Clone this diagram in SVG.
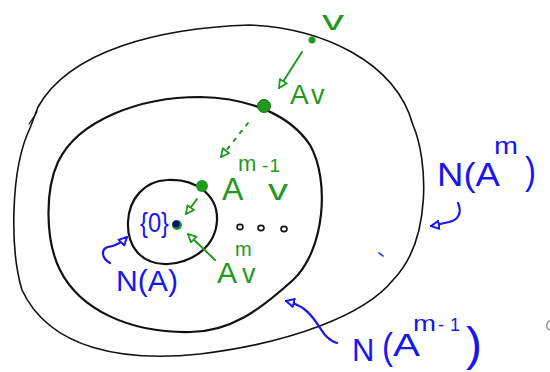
<svg xmlns="http://www.w3.org/2000/svg" width="550" height="372" viewBox="0 0 550 372">
<style>
.rg{fill:none;stroke:#111;stroke-linecap:round;stroke-linejoin:round}
.g{fill:#1f9a1f;font-family:"Liberation Sans","DejaVu Sans",sans-serif}
.b{fill:#1717ee;font-family:"Liberation Sans","DejaVu Sans",sans-serif}
.gl{fill:none;stroke:#1f9a1f;stroke-width:2;stroke-linecap:round}
.bl{fill:none;stroke:#1717ee;stroke-width:2.2;stroke-linecap:round;stroke-linejoin:round}
</style>
<defs>
<marker id="ag" viewBox="0 0 10 10" refX="9" refY="5" markerWidth="10" markerHeight="10" markerUnits="userSpaceOnUse" orient="auto"><path d="M1,1 L9,5 L1,9 Z" fill="#fff" stroke="#1f9a1f" stroke-width="1.8" stroke-linejoin="round"/></marker>
<marker id="ab" viewBox="0 0 10 10" refX="9" refY="5" markerWidth="10" markerHeight="10" markerUnits="userSpaceOnUse" orient="auto"><path d="M1,1 L9,5 L1,9 Z" fill="#fff" stroke="#1717ee" stroke-width="2" stroke-linejoin="round"/></marker>
</defs>
<rect width="550" height="372" fill="#fff"/>

<g id="outer-region">
<path class="rg" stroke-width="1.6" d="M 250,25 C 320,28 395,60 413,125 C 428,160 432,240 393,280 C 365,315 290,343 200,354 C 125,362 50,350 22,290 C 10,250 10,170 30,128 L 38,107 C 70,50 160,28 250,25 Z"/>
<path class="rg" stroke-width="1.2" d="M 29,124 L 37,112"/>
</g>
<g id="middle-region">
<path class="rg" stroke-width="2.2" d="M 200,97 C 250,98 290,115 310,145 C 330,180 325,250 293,280 C 260,310 230,332 190,332 C 130,333 80,310 60,270 C 45,240 45,190 58,162 C 78,120 140,97 200,97 Z"/>
</g>
<g id="inner-region">
<path class="rg" stroke-width="2.2" d="M 167,180 C 195,178 218,195 217,220 C 216,245 195,262 168,264 C 140,265 127,245 128,222 C 129,198 145,181 167,180 Z"/>
</g>

<g id="point-v"><circle cx="312" cy="40" r="3.5" fill="#1f9a1f"/>
<text class="g" x="322" y="30" font-size="27" textLength="22" lengthAdjust="spacingAndGlyphs">v</text></g>
<g id="point-Av"><circle cx="264" cy="106" r="6.5" fill="#1f9a1f" stroke="#137013" stroke-width="1"/>
<text class="g" x="290" y="104" font-size="28">A</text><text class="g" x="311" y="104" font-size="27">v</text></g>
<g id="point-Am1v"><circle cx="202" cy="186" r="6" fill="#1f9a1f"/>
<text class="g" x="222" y="200" font-size="32">A</text>
<text class="g" x="238" y="171" font-size="22">m</text>
<text class="g" x="262" y="172" font-size="19" textLength="18" lengthAdjust="spacing">-1</text>
<text class="g" x="268" y="200" font-size="29" textLength="20" lengthAdjust="spacingAndGlyphs">v</text></g>
<g id="point-Amv"><circle cx="177" cy="225" r="5" fill="#1f9a1f"/><circle cx="176" cy="224" r="3.6" fill="#0d0d80"/>
<text class="g" x="217" y="283" font-size="30">A</text>
<text class="g" x="235" y="256" font-size="20">m</text>
<text class="g" x="242" y="283" font-size="27">v</text></g>
<g id="zero-set"><text class="b" x="140" y="232" font-size="27" textLength="29" lengthAdjust="spacingAndGlyphs">{0}</text></g>
<g id="ellipsis">
<ellipse cx="240" cy="227" rx="3" ry="2.6" fill="none" stroke="#111" stroke-width="1.6"/>
<ellipse cx="261" cy="228" rx="3" ry="2.6" fill="none" stroke="#111" stroke-width="1.6"/>
<ellipse cx="284" cy="229" rx="3" ry="2.6" fill="none" stroke="#111" stroke-width="1.6"/>
</g>

<g id="label-NA"><text class="b" x="116" y="291" font-size="29" textLength="62" lengthAdjust="spacingAndGlyphs">N(A)</text></g>
<g id="label-NAm">
<text class="b" x="437" y="186" font-size="33" textLength="63" lengthAdjust="spacingAndGlyphs">N(A</text>
<text class="b" x="494" y="154" font-size="23" textLength="24" lengthAdjust="spacingAndGlyphs">m</text>
<text class="b" x="525" y="184" font-size="38" textLength="11" lengthAdjust="spacingAndGlyphs">)</text>
</g>
<g id="label-NAm1">
<text class="b" x="352" y="361" font-size="31">N</text>
<text class="b" x="382" y="359" font-size="36" textLength="11" lengthAdjust="spacingAndGlyphs">(</text>
<text class="b" x="393" y="356" font-size="32" textLength="27" lengthAdjust="spacingAndGlyphs">A</text>
<text class="b" x="413" y="331" font-size="22" textLength="23" lengthAdjust="spacingAndGlyphs">m</text>
<text class="b" x="438" y="331" font-size="18" textLength="22" lengthAdjust="spacing">-1</text>
<text class="b" x="466" y="360" font-size="46" textLength="16" lengthAdjust="spacingAndGlyphs">)</text>
</g>

<g id="connectors">
<path class="gl" d="M 302,52 L 279,88" marker-end="url(#ag)"/>
<path class="gl" d="M 248,123 L 221,157" stroke-dasharray="3 7" marker-end="url(#ag)"/>
<path class="gl" d="M 197,199 L 186,214" marker-end="url(#ag)"/>
<path class="gl" d="M 215,260 L 188,234" marker-end="url(#ag)"/>
<path class="bl" d="M 110,263 C 101,258 101,249 108,247 C 115,246 120,244 127,237" marker-end="url(#ab)"/>
<path class="bl" d="M 458,203 C 462,212 459,220 449,222 C 443,223 438,225 431,226" marker-end="url(#ab)"/>
<path class="bl" d="M 337,343 C 326,340 322,330 316,322 C 309,312 302,305 286,301" marker-end="url(#ab)"/>
</g>
<g id="stray-marks">
<path d="M 379,253 L 383,256" stroke="#3a3aee" stroke-width="1.6" stroke-linecap="round"/>
<path d="M 551,321 C 546,321 545,329 550,330" fill="none" stroke="#999" stroke-width="1.4"/>
</g>
</svg>
